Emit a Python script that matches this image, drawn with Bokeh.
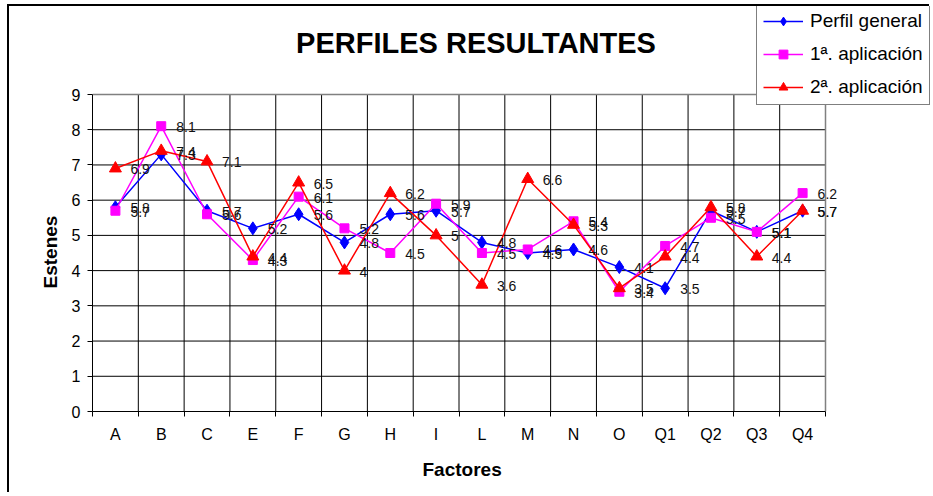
from bokeh.plotting import figure
from bokeh.models import FixedTicker, Legend, LegendItem, Label, ColumnDataSource, Range1d, Title
from bokeh.core.properties import value
from bokeh.embed import file_html
from bokeh.resources import INLINE

factores = ["A", "B", "C", "E", "F", "G", "H", "I", "L", "M", "N", "O", "Q1", "Q2", "Q3", "Q4"]
perfil_general = [5.8, 7.3, 5.7, 5.2, 5.6, 4.8, 5.6, 5.7, 4.8, 4.5, 4.6, 4.1, 3.5, 5.7, 5.1, 5.7]
aplicacion_1 = [5.7, 8.1, 5.6, 4.3, 6.1, 5.2, 4.5, 5.9, 4.5, 4.6, 5.4, 3.4, 4.7, 5.5, 5.1, 6.2]
aplicacion_2 = [6.9, 7.4, 7.1, 4.4, 6.5, 4.0, 6.2, 5.0, 3.6, 6.6, 5.3, 3.5, 4.4, 5.8, 4.4, 5.7]
y_ticks = [0, 1, 2, 3, 4, 5, 6, 7, 8, 9]

titulo = "PERFILES RESULTANTES"
x_title = "Factores"
y_title = "Estenes"
series_names = ["Perfil general", "1\u00aa. aplicaci\u00f3n", "2\u00aa. aplicaci\u00f3n"]

FONT = "Liberation Sans"

# layout (pixels)
W, H = 922, 488
LEFT, BOTTOM = 83, 83
PLOT_W, PLOT_H = 733, 317          # size of the gridded plot area
FRAME_W, FRAME_H = W - LEFT, H - BOTTOM

n = len(factores)
ymax = y_ticks[-1]
xs = [i + 0.5 for i in range(n)]

p = figure(width=W, height=H, output_backend="svg", toolbar_location=None, title=None,
           x_range=Range1d(0, n * FRAME_W / PLOT_W),
           y_range=Range1d(0, ymax * FRAME_H / PLOT_H),
           min_border_left=LEFT, min_border_bottom=BOTTOM, min_border_top=0, min_border_right=0,
           styles={"margin-left": "7px", "margin-top": "4px",
                   "border-top": "2px solid black", "border-left": "2px solid black"})

p.outline_line_color = None
p.xgrid.visible = False
p.ygrid.visible = False

# X axis: labels at centres, ticks at boundaries
p.xaxis.bounds = (0, n)
p.xaxis.ticker = FixedTicker(ticks=xs, minor_ticks=list(range(0, n + 1)))
p.xaxis.major_label_overrides = {x: f for x, f in zip(xs, factores)}
p.xaxis.major_tick_line_color = None
p.xaxis.major_tick_out = 5
p.xaxis.major_tick_in = 0
p.xaxis.minor_tick_line_color = "black"
p.xaxis.minor_tick_out = 5
p.xaxis.minor_tick_in = 0
p.xaxis.axis_line_color = "black"
p.xaxis.major_label_text_font = FONT
p.xaxis.major_label_text_font_size = "16px"
p.xaxis.major_label_text_color = "black"
p.xaxis.major_label_standoff = 9

# Y axis
p.yaxis.bounds = (0, ymax)
p.yaxis.ticker = FixedTicker(ticks=y_ticks)
p.yaxis.major_tick_out = 5
p.yaxis.major_tick_in = 0
p.yaxis.minor_tick_line_color = None
p.yaxis.axis_line_color = "black"
p.yaxis.major_tick_line_color = "black"
p.yaxis.major_label_text_font = FONT
p.yaxis.major_label_text_font_size = "16px"
p.yaxis.major_label_text_color = "black"
p.yaxis.major_label_standoff = 7

# Axis titles centred on the gridded area (not on the whole frame)
xt = Title(text=x_title, align="left", offset=330, vertical_align="top", standoff=26,
           text_font=FONT, text_font_style="bold", text_font_size="19px", text_color="black")
p.add_layout(xt, "below")
yt = Title(text=y_title, align="left", offset=123, vertical_align="bottom", standoff=16,
           text_font=FONT, text_font_style="bold", text_font_size="19px", text_color="black")
p.add_layout(yt, "left")

# Grid of the plot area (limited to the category / value extent)
inner_x = list(range(1, n))
p.segment(x0=inner_x, x1=inner_x, y0=[0] * len(inner_x), y1=[ymax] * len(inner_x),
          line_color="black", line_width=1)
inner_y = y_ticks[1:-1]
p.segment(x0=[0] * len(inner_y), x1=[n] * len(inner_y), y0=inner_y, y1=inner_y,
          line_color="black", line_width=1)
# plot-area border (top and right, grey)
p.segment(x0=[0, n], x1=[n, n], y0=[ymax, 0], y1=[ymax, ymax],
          line_color="#808080", line_width=1.5)

styles = [
    (perfil_general, "#0000FF", "diamond", 13),
    (aplicacion_1, "#FF00FF", "square", 9),
    (aplicacion_2, "#FF0000", "triangle", 12),
]

items = []
label_sources = []
for (vals, color, marker, size), name in zip(styles, series_names):
    src = ColumnDataSource(dict(x=xs, y=vals, lbl=[f"{v:g}" for v in vals]))
    r_line = p.line("x", "y", source=src, line_color=color, line_width=1.5)
    r_pt = p.scatter("x", "y", source=src, marker=marker, size=size,
                     fill_color=color, line_color=color)
    items.append(LegendItem(label=name, renderers=[r_line, r_pt]))
    label_sources.append(src)

for src in label_sources:
    p.text("x", "y", text="lbl", source=src, x_offset=15, y_offset=1,
           text_font=value(FONT), text_font_size="14px", text_color="#111111",
           text_baseline="middle", text_align="left")

legend = Legend(items=items, location=(664, 306), orientation="vertical")
legend.label_text_font = FONT
legend.label_text_font_size = "19px"
legend.label_text_color = "black"
legend.glyph_width = 40
legend.glyph_height = 22
legend.label_height = 22
legend.spacing = 11
legend.padding = 6
legend.margin = 0
legend.label_standoff = 7
legend.border_line_color = "black"
legend.border_line_width = 1
legend.background_fill_color = "white"
legend.background_fill_alpha = 1
p.add_layout(legend)

title_label = Label(x=383.5, y=369, x_units="screen", y_units="screen", text=titulo,
                    text_font=FONT, text_font_style="bold", text_font_size="29px",
                    text_align="center", text_baseline="middle", text_color="black")
p.add_layout(title_label)

open("out.html", "w").write(file_html(p, INLINE))
